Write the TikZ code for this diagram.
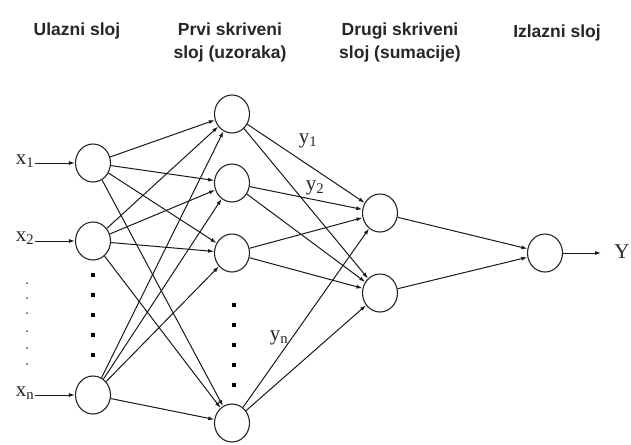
\documentclass[tikz,border=0pt]{standalone}
\usepackage{fontspec}
\setmainfont{Liberation Serif}
\setsansfont{Liberation Sans}[BoldFont={Liberation Sans Bold}]
\newfontfamily\headfont{Liberation Sans Bold}
\usetikzlibrary{shapes.geometric,arrows.meta}
\begin{document}
\begin{tikzpicture}[x=1pt,y=-1pt,
  neuron/.style={ellipse,draw=black!85,line width=1.1pt,minimum width=35pt,minimum height=38pt,inner sep=0pt},
  conn/.style={draw=black!90,line width=1pt,-{Latex[length=6pt,width=4pt]}},
  head/.style={font=\headfont\fontsize{17.5}{23}\selectfont,align=center,text=black!85},
  lab/.style={font=\fontsize{21}{22}\selectfont,inner sep=1pt,text=black!85},
  bigdot/.style={fill=black,minimum size=4.5pt,inner sep=0pt},
  smalldot/.style={circle,fill=black!70,minimum size=2pt,inner sep=0pt}]
\useasboundingbox (0,0) rectangle (631,444);
% headers
\node[head] (h0) at (77,31) {Ulazni sloj};
\node[head] (h1) at (230,42) {Prvi skriveni\\sloj (uzoraka)};
\node[head] (h2) at (400,42) {Drugi skriveni\\sloj (sumacije)};
\node[head] (h3) at (557,33) {Izlazni sloj};
% input layer
\node[neuron] (i1) at (93,163) {};
\node[neuron] (i2) at (93,241) {};
\node[neuron] (i3) at (93,395) {};
% hidden 1
\node[neuron] (a1) at (232,114) {};
\node[neuron] (a2) at (232,183) {};
\node[neuron] (a3) at (232,253) {};
\node[neuron] (a4) at (232,423) {};
% hidden 2
\node[neuron] (b1) at (380,213) {};
\node[neuron] (b2) at (380,293) {};
% output
\node[neuron] (o) at (545,253) {};
% input labels
\node[lab] (x1) at (25,161) {x\textsubscript{1}};
\node[lab] (x2) at (25,238) {x\textsubscript{2}};
\node[lab] (xn) at (25,393) {x\textsubscript{n}};
\draw[conn] (x1.east |- i1) -- (i1);
\draw[conn] (x2.east |- i2) -- (i2);
\draw[conn] (xn.east |- i3) -- (i3);
% output label
\node[lab] (Y) at (622,252) {Y};
\coordinate (yend) at (601,253);
\draw[conn] (o) -- (yend);
% input -> hidden1
\foreach \s in {i1,i2,i3}{
  \foreach \t in {a1,a2,a3,a4}{
    \draw[conn] (\s) -- (\t);
  }
}
% hidden1 -> hidden2
\foreach \s in {a1,a2,a3,a4}{
  \foreach \t in {b1,b2}{
    \draw[conn] (\s) -- (\t);
  }
}
% hidden2 -> output
\draw[conn] (b1) -- (o);
\draw[conn] (b2) -- (o);
% y labels
\node[lab] (y1) at (308,141) {y\textsubscript{1}};
\node[lab] (y2) at (315,188) {y\textsubscript{2}};
\node[lab] (yn) at (279,338) {y\textsubscript{n}};
% dots
\foreach \y [count=\k] in {275,295,315,335,355}{
  \node[bigdot] (d\k) at (93,\y) {};
}
\foreach \y [count=\k] in {305,325,345,365,385}{
  \node[bigdot] (e\k) at (234,\y) {};
}
\foreach \y [count=\k] in {283,298,313,331,348,364}{
  \node[smalldot] (s\k) at (27,\y) {};
}
\end{tikzpicture}
\end{document}
